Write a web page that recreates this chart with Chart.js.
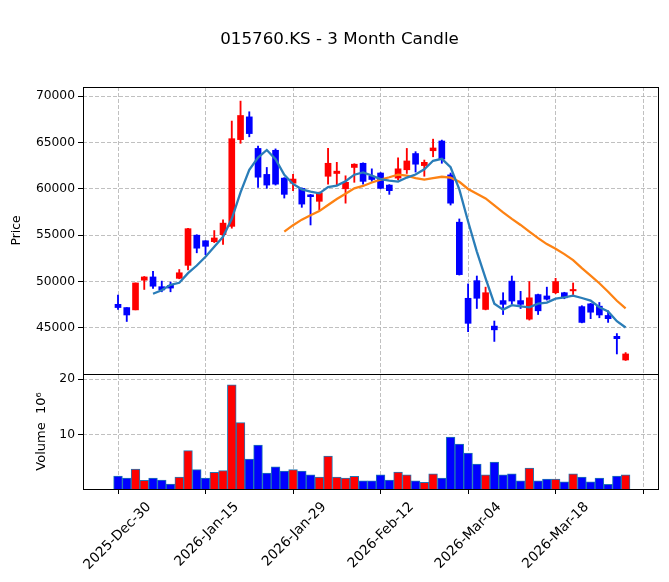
<!DOCTYPE html>
<html lang="en">
<head>
  <meta charset="UTF-8">
  <title>015760.KS - 3 Month Candle</title>
  <script src="https://cdn.jsdelivr.net/npm/chart.js"></script>
  <style>
    html, body { margin: 0; padding: 0; background: #fff; }
    #wrap { position: relative; width: 669px; height: 582px; }
  </style>
</head>
<body>
  <div id="wrap"><canvas id="candleChart" width="669" height="582"></canvas></div>
  <script>
    const chartTitle = '015760.KS - 3 Month Candle';

    // x positions are trading-day indexes; labels only on every 10th day
    const tickPos = [0, 10, 20, 30, 40, 50, 60];
    const tickLabels = ['2025-Dec-30', '2026-Jan-15', '2026-Jan-29', '2026-Feb-12', '2026-Mar-04', '2026-Mar-18', ''];
    const priceTicks = [45000, 50000, 55000, 60000, 65000, 70000];
    const volTicks = [10, 20];

    const opens = [47550, 47200, 46950, 50150, 50500, 49450, 49600, 50350, 51750, 55000,
                   54400, 54300, 55050, 55950, 65300, 67750, 64350, 61550, 64150, 61150,
                   60600, 60050, 59350, 58650, 61350, 61650, 60000, 62300, 62750, 61350,
                   61700, 60400, 61150, 62050, 63800, 62500, 64100, 65150, 61500, 56400,
                   48200, 50100, 47000, 45200, 47950, 50050, 47950, 45950, 48600, 48450,
                   48800, 48800, 49000, 47300, 47600, 47350, 46350, 44100, 41550];
    const highs = [48550, 47200, 49850, 50550, 51100, 50050, 49950, 51300, 55750, 55050,
                   54400, 55500, 56650, 67300, 69450, 68300, 64600, 62300, 64300, 61200,
                   61550, 60100, 59400, 59650, 64350, 62850, 61400, 62700, 62800, 62150,
                   61750, 60450, 63350, 64350, 64000, 63100, 65350, 65250, 61700, 56750,
                   49750, 50600, 49400, 45750, 48800, 50600, 48950, 50000, 48650, 49400,
                   50350, 48850, 49850, 47400, 47650, 47750, 46850, 44400, 42350];
    const lows = [47000, 45700, 46950, 49150, 49250, 48900, 48900, 50300, 51250, 53100,
                  52900, 54200, 54000, 55750, 64900, 65600, 60150, 60050, 60400, 59000,
                  59800, 58000, 56100, 57750, 60500, 60400, 58450, 60700, 60500, 60800,
                  60000, 59400, 60950, 61650, 61800, 61350, 63450, 62750, 58250, 50700,
                  44600, 47100, 46950, 43550, 46450, 47550, 47100, 45850, 46450, 48000,
                  48700, 48150, 48600, 45550, 46000, 46100, 45600, 42200, 41500];
    const closes = [47200, 46400, 49850, 50500, 49500, 49100, 49300, 50950, 55700, 53600,
                    53800, 54700, 56300, 65400, 67900, 65950, 61250, 60400, 60500, 59400,
                    61050, 58350, 59150, 59550, 62750, 61900, 60700, 62650, 60800, 61000,
                    60050, 59800, 62150, 63000, 62650, 62850, 64400, 63200, 58450, 50750,
                    45500, 48200, 48800, 44800, 47550, 47900, 47550, 48250, 46850, 48100,
                    50000, 48250, 49150, 45600, 46700, 46400, 46000, 43850, 42200];
    // volume in millions of shares
    const volumes = [2.68, 2.32, 3.93, 1.9, 2.32, 1.96, 1.25, 2.5, 7.2, 3.8,
                     2.32, 3.32, 3.63, 18.98, 12.2, 5.71, 8.21, 3.21, 4.29, 3.57,
                     3.8, 3.57, 2.86, 2.5, 6.25, 2.5, 2.32, 2.61, 1.79, 1.79,
                     2.86, 1.96, 3.39, 2.86, 1.79, 1.54, 3.04, 2.32, 9.64, 8.39,
                     6.79, 4.82, 2.86, 5.18, 2.86, 3.04, 1.79, 4.11, 1.79, 2.14,
                     2.14, 1.61, 3.04, 2.5, 1.61, 2.32, 1.18, 2.68, 2.86];
    const ma5 = [null, null, null, null, 48690, 49070, 49650, 49870, 50910, 51730,
                 52670, 53750, 54820, 56760, 59620, 62050, 63360, 64180, 63200, 61500,
                 60520, 59940, 59690, 59510, 60180, 60350, 60820, 61520, 61770, 61420,
                 61050, 60870, 60770, 61210, 61540, 62100, 63020, 63230, 62320, 59940,
                 56470, 53230, 50350, 47620, 46980, 47460, 47330, 47220, 47630, 47740,
                 48160, 48300, 48480, 48230, 47950, 47230, 46790, 45730, 45050];
    const ma20 = [null, null, null, null, null, null, null, null, null, null,
                  null, null, null, null, null, null, null, null, null, 55385,
                  56078, 56675, 57140, 57593, 58255, 58895, 59465, 60050, 60305, 60675,
                  60988, 61243, 61535, 61415, 61153, 60998, 61155, 61295, 61193, 60760,
                  59983, 59475, 58958, 58220, 57460, 56760, 56103, 55383, 54685, 54040,
                  53538, 52960, 52310, 51440, 50643, 49820, 48900, 47933, 47120];

    Chart.defaults.font.family = "'DejaVu Sans', sans-serif";
    Chart.defaults.font.size = 12.3;
    Chart.defaults.color = '#000';

    const candleColor = closes.map((c, i) => c >= opens[i] ? '#ff0000' : '#0000ff');
    const pts = arr => arr.map((v, i) => ({ x: i, y: v }));

    const grid = { color: '#b0b0b0', lineWidth: 0.8, tickColor: '#000', tickLength: 5, tickWidth: 1 };
    const border = { display: false, dash: [4, 2] };

    // box around each panel + figure title
    const framePlugin = {
      id: 'frame',
      afterDraw(chart) {
        const { ctx, chartArea } = chart;
        ctx.save();
        ctx.strokeStyle = '#000';
        ctx.lineWidth = 1;
        ['y', 'yv'].forEach(id => {
          const s = chart.scales[id];
          ctx.strokeRect(chartArea.left + 0.5, s.top + 0.5, chartArea.right - chartArea.left, s.bottom - s.top);
        });
        ctx.font = "16.7px 'DejaVu Sans'";
        ctx.fillStyle = '#000';
        ctx.textAlign = 'center';
        ctx.textBaseline = 'middle';
        ctx.fillText(chartTitle, 339.5, 40);
        ctx.restore();
      }
    };

    new Chart(document.getElementById('candleChart'), {
      type: 'bar',
      data: {
        datasets: [
          {
            type: 'line', label: 'MA5', data: pts(ma5), yAxisID: 'y',
            borderColor: '#2a7db8', borderWidth: 2.3, pointRadius: 0, order: 0
          },
          {
            type: 'line', label: 'MA20', data: pts(ma20), yAxisID: 'y',
            borderColor: '#fd8213', borderWidth: 2.3, pointRadius: 0, order: 1
          },
          {
            label: 'body', yAxisID: 'y', order: 2,
            data: opens.map((o, i) => ({ x: i, y: [o, closes[i]] })),
            backgroundColor: candleColor, barThickness: 6, minBarLength: 1, grouped: false
          },
          {
            label: 'wick', yAxisID: 'y', order: 3,
            data: lows.map((l, i) => ({ x: i, y: [l, highs[i]] })),
            backgroundColor: candleColor, barThickness: 1.2, grouped: false
          },
          {
            label: 'volume', yAxisID: 'yv', order: 4,
            data: pts(volumes),
            backgroundColor: candleColor, borderColor: '#1f77b4', borderWidth: 1,
            barThickness: 8.75, grouped: false
          }
        ]
      },
      options: {
        responsive: false,
        animation: false,
        layout: { padding: { top: 87, right: 11, bottom: 0, left: 0 } },
        plugins: { legend: { display: false }, tooltip: { enabled: false } },
        scales: {
          x: {
            type: 'linear', position: 'bottom', min: -4, max: 61.7, offset: false,
            grid: { ...grid, offset: false }, border,
            afterBuildTicks: s => { s.ticks = tickPos.map(v => ({ value: v })); },
            afterFit: s => { s.height = 93; },
            ticks: {
              autoSkip: false, maxRotation: 45, minRotation: 45, padding: 5, labelOffset: 31,
              font: { size: 13.7 },
              callback: (v, i) => tickLabels[i]
            }
          },
          y: {
            type: 'linear', position: 'left', stack: 'panels', stackWeight: 287, weight: 2,
            min: 40040, max: 70970, beginAtZero: false,
            grid, border,
            afterBuildTicks: s => { s.ticks = priceTicks.map(v => ({ value: v })); },
            afterFit: s => { s.width = 83; },
            ticks: { padding: 3, callback: v => String(v) },
            title: { display: true, text: 'Price', padding: { top: 9.6, bottom: 0 } }
          },
          yv: {
            type: 'linear', position: 'left', stack: 'panels', stackWeight: 115, weight: 1,
            min: 0.35, max: 20.9, beginAtZero: false,
            grid, border,
            afterBuildTicks: s => { s.ticks = volTicks.map(v => ({ value: v })); },
            afterFit: s => { s.width = 83; },
            ticks: { padding: 3, callback: v => String(v) },
            title: { display: true, text: 'Volume  10⁶', font: { size: 13 }, padding: { top: 34.2, bottom: 0 } }
          }
        }
      },
      plugins: [framePlugin]
    });
  </script>
</body>
</html>
